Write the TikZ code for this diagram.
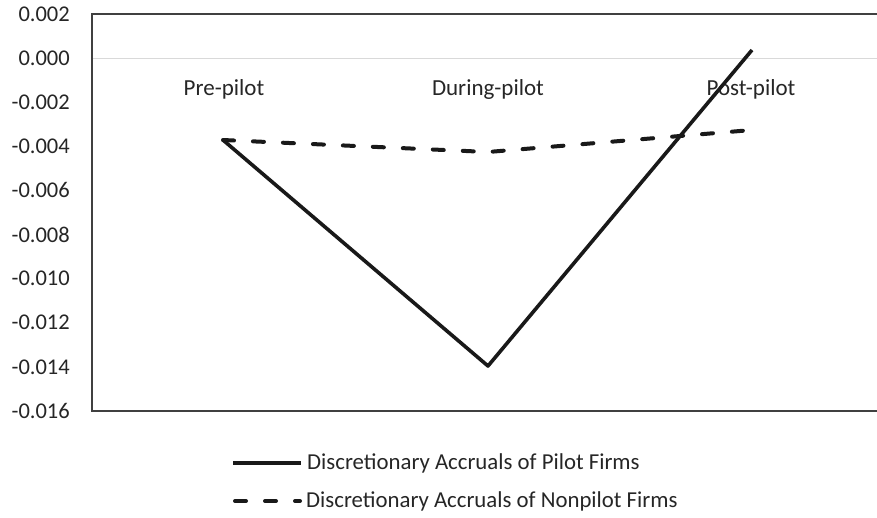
\documentclass[tikz,border=0pt]{standalone}
\usepackage{fontspec}
\setmainfont{Carlito}
\usetikzlibrary{positioning}
\definecolor{axisgray}{RGB}{64,64,64}
\definecolor{gridgray}{RGB}{217,217,217}
\definecolor{textgray}{RGB}{38,38,38}
\tikzset{
  pilot/.style={line width=3.6pt,color=black!90,line join=round},
  nonpilot/.style={line width=4pt,color=black!90,line cap=round,dash pattern=on 11pt off 19pt},
  ticklabel/.style={anchor=east,inner sep=0pt,text=textgray,font=\fontsize{22.5}{26}\selectfont},
  catlabel/.style={anchor=base,inner sep=0pt,text=textgray,font=\fontsize{23}{27}\selectfont},
  legendtext/.style={right,inner sep=0pt,text=textgray,font=\fontsize{22.8}{27}\selectfont}
}

\begin{document}
\begin{tikzpicture}[x=1pt,y=-1pt]
		\useasboundingbox (0,0) rectangle (877,517);
		% zero line and axes
		\draw [gridgray, line width=1pt] (92,58.5) -- (877,58.5);
		\draw [axisgray, line width=1.6pt] (877,14) -- (92,14) -- (92,411) -- (877,411);
		\foreach \v [count=\i from 0] in {0.002,0.000,-0.002,-0.004,-0.006,-0.008,-0.010,-0.012,-0.014,-0.016}
			\node [ticklabel] (tick\i) at (70,{14+44.11*\i}) {\v};
		\node [catlabel] (pre) at (224,95) {Pre-pilot};
		\node [catlabel] (during) at (488,95) {During-pilot};
		\node [catlabel] (post) at (751,95) {Post-pilot};
		% data points
		\coordinate (p1) at (223,140);
		\coordinate (p2) at (488,366);
		\coordinate (p3) at (752,50);
		\coordinate (n1) at (223,140);
		\coordinate (n2) at (488,152);
		\coordinate (n3) at (752,130);
		\draw [nonpilot] (n1) -- (n2) -- (n3);
		\draw [pilot] (p1) -- (p2) -- (p3);
		% legend
		\coordinate (lp) at (233,463);
		\coordinate (ln) at (235,501);
		\node [legendtext] (lpilot) at (307,463) {Discretionary Accruals of Pilot Firms};
		\node [legendtext] (lnonpilot) at (306,501) {Discretionary Accruals of Nonpilot Firms};
		\draw [pilot] (lp) -- ([xshift=-6pt]lpilot.west);
		\draw [nonpilot] (ln) -- ([xshift=-6pt]lnonpilot.west);
	\end{tikzpicture}
\end{document}
